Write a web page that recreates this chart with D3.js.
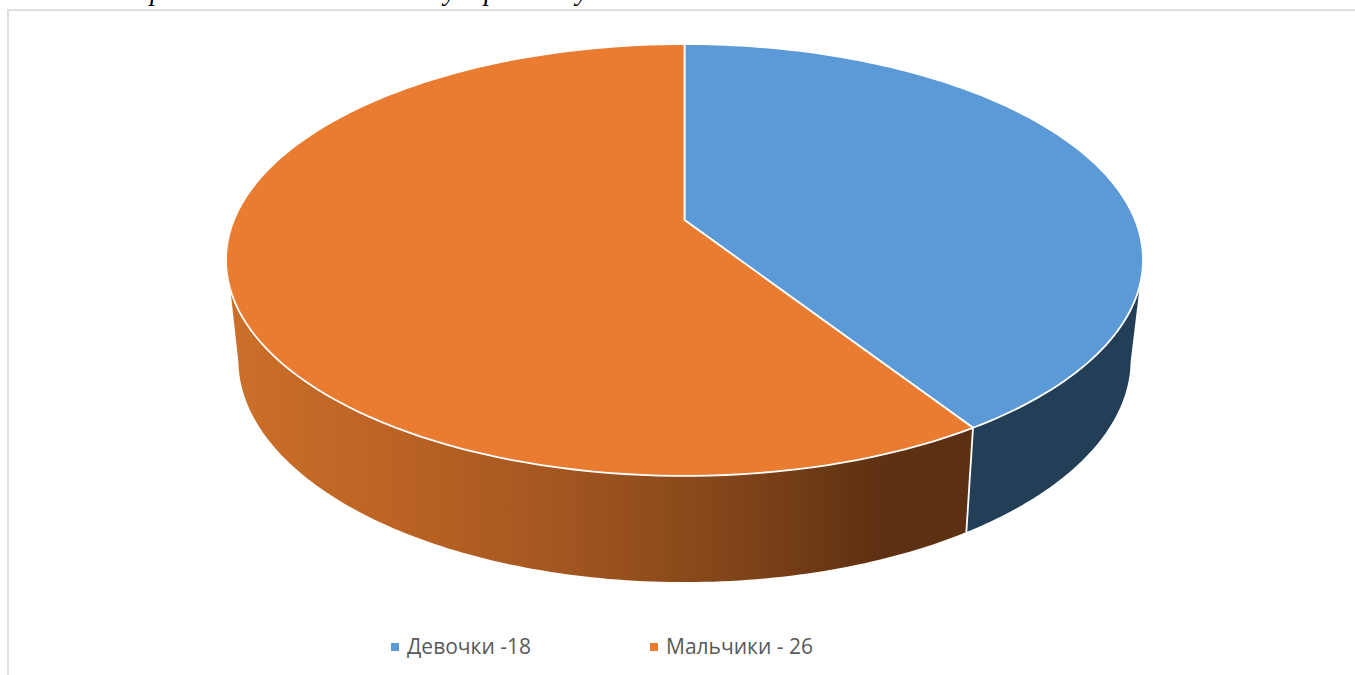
<!DOCTYPE html>
<html>
<head>
<meta charset="utf-8">
<script src="https://cdn.jsdelivr.net/npm/d3@7"></script>
<style>
  html, body { margin: 0; padding: 0; background: #fff; overflow: hidden; }
  svg { display: block; }
</style>
</head>
<body>
<svg id="chart" width="1355" height="675"></svg>
<script>
const categories = ['Девочки -18', 'Мальчики - 26'];
const values = [18, 26];
const topColors = ['#5B9AD6', '#EA7C31'];
const sideColors = ['#233F57', 'url(#sideOrange)'];

// only the descenders of the line above the chart are left in the picture
const clippedLetters = ['р', 'у', 'р', 'у'];
const clippedLetterX = [150, 444, 484, 576];

const W = 1355;
const H = 675;
const CX = 684.5;

// perspective of the disc: top face and lower rim as projected circles
const topFace = { a: 450.6, b: 167.85, c: 220, k: 0.185 };
const lowerRim = { a: 438, b: 154, c: 317.5, k: 0.19 };

// where the side wall leaves the top face / meets the lower rim (silhouette)
const rad = Math.PI / 180;
const limitsTop = [107.2 * rad, 251.6 * rad];
const limitsLow = [101.5 * rad, 258.5 * rad];

const project = (p, t) => {
  let u = Math.sin(t);
  let v = -Math.cos(t);
  let w = 1 - p.k * v;
  return [CX + p.a * u / w, (p.b * v + p.c) / w];
};

const rim = (p, t0, t1) => d3.range(0, 121).map(i => project(p, t0 + (t1 - t0) * i / 120));

const line = d3.line();
const svg = d3.select('#chart');

const defs = svg.append('defs');
defs.append('linearGradient')
  .attr('id', 'sideOrange')
  .attr('gradientUnits', 'userSpaceOnUse')
  .attr('x1', 230).attr('x2', 965).attr('y1', 0).attr('y2', 0)
  .selectAll('stop')
  .data([[0, '#CB7029'], [0.22, '#BC6325'], [0.45, '#A35620'], [0.68, '#824519'], [0.88, '#5F3112'], [1, '#5C3012']])
  .join('stop')
  .attr('offset', d => d[0])
  .attr('stop-color', d => d[1]);

// frame of the chart area, runs off the picture on the right and at the bottom
svg.append('rect')
  .attr('x', 8).attr('y', 10)
  .attr('width', W).attr('height', H)
  .attr('fill', '#fff')
  .attr('stroke', '#DEDEDE')
  .attr('stroke-width', 2);

svg.append('g')
  .attr('font-family', '"Liberation Serif", serif')
  .attr('font-style', 'italic')
  .attr('font-size', 27)
  .attr('fill', '#000')
  .selectAll('text')
  .data(clippedLetters)
  .join('text')
  .attr('x', (d, i) => clippedLetterX[i])
  .attr('y', 0)
  .text(d => d);

const arcs = d3.pie().sort(null)(values);

// side walls
const wallEnds = [
  { top: [limitsTop[0], arcs[0].endAngle], low: [limitsLow[0], arcs[0].endAngle] },
  { top: [arcs[1].startAngle, limitsTop[1]], low: [arcs[1].startAngle, limitsLow[1]] },
];

svg.append('g')
  .selectAll('path')
  .data(wallEnds)
  .join('path')
  .attr('d', d => line(rim(topFace, d.top[0], d.top[1])
    .concat(rim(lowerRim, d.low[0], d.low[1]).reverse())) + 'Z')
  .attr('fill', (d, i) => sideColors[i]);

// white seam between the two walls
svg.append('path')
  .attr('d', line([project(topFace, arcs[1].startAngle), project(lowerRim, arcs[1].startAngle)]))
  .attr('fill', 'none')
  .attr('stroke', '#fff')
  .attr('stroke-width', 1.8);

// top face
svg.append('g')
  .selectAll('path')
  .data(arcs)
  .join('path')
  .attr('d', d => line([[CX, topFace.c]].concat(rim(topFace, d.startAngle, d.endAngle))) + 'Z')
  .attr('fill', (d, i) => topColors[i])
  .attr('stroke', '#fff')
  .attr('stroke-width', 1.8)
  .attr('stroke-linejoin', 'round');

// legend
const legendX = d3.scaleOrdinal().domain(categories).range([391, 650]);
const legend = svg.append('g')
  .selectAll('g')
  .data(categories)
  .join('g')
  .attr('transform', d => `translate(${legendX(d)}, 647)`);

legend.append('rect')
  .attr('x', 0).attr('y', -4)
  .attr('width', 8).attr('height', 8)
  .attr('fill', (d, i) => topColors[i]);

legend.append('text')
  .attr('x', 16).attr('y', 7)
  .attr('font-family', '"Open Sans", sans-serif')
  .attr('font-size', 21)
  .attr('fill', '#595959')
  .text(d => d);
</script>
</body>
</html>
